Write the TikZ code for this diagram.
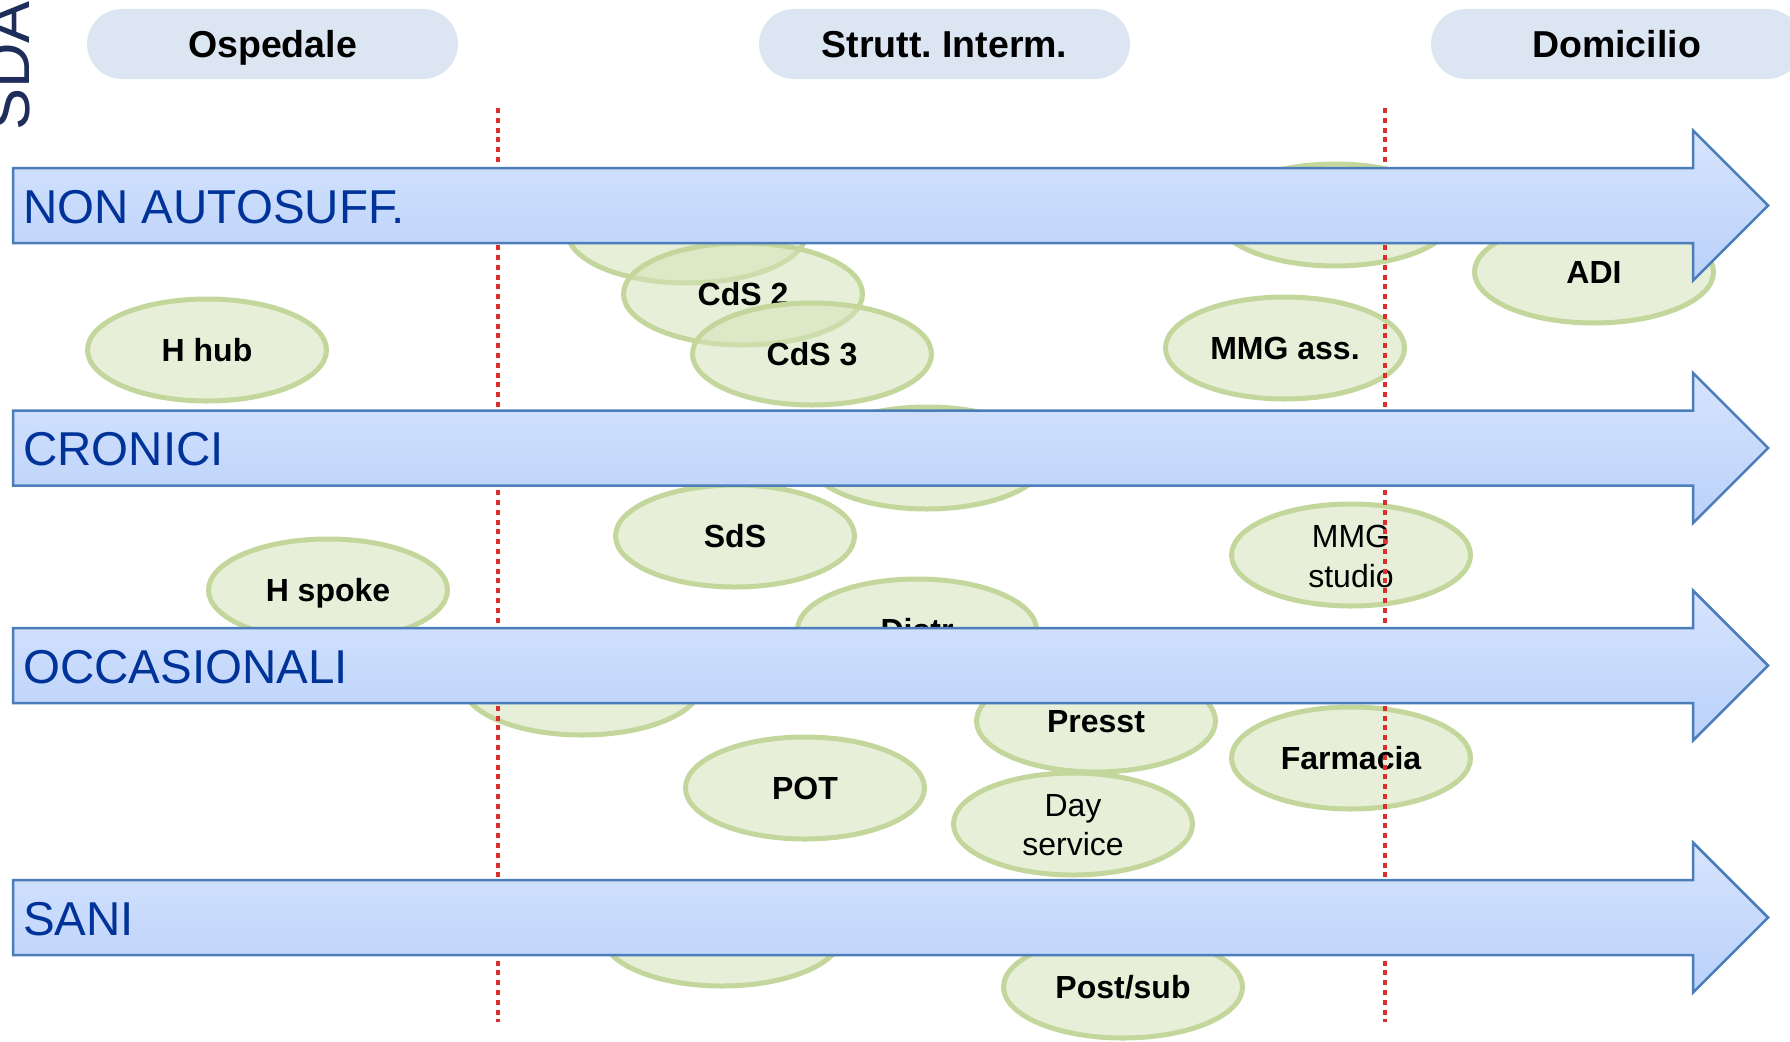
\documentclass[tikz,border=0pt]{standalone}
\usepackage{fontspec}
\setmainfont{Liberation Sans}
\usetikzlibrary{shapes.geometric}
\definecolor{pillblue}{RGB}{220,230,242}
\definecolor{ellline}{RGB}{195,214,155}
\definecolor{ellfill}{RGB}{212,226,184}
\definecolor{arrline}{RGB}{74,125,186}
\definecolor{arrtop}{RGB}{214,228,254}
\definecolor{arrbot}{RGB}{186,209,250}
\definecolor{lanetext}{RGB}{0,51,153}
\definecolor{dotred}{RGB}{222,45,45}
\definecolor{sdanavy}{RGB}{30,45,90}
\tikzset{
  pill/.style={rectangle, rounded corners=35pt, fill=pillblue, minimum width=371pt, minimum height=70pt,
    inner sep=0pt, font=\bfseries\fontsize{37.5}{42}\selectfont, text height=27pt, text depth=0pt},
  blob/.style={ellipse, minimum width=239pt, minimum height=102pt, inner sep=0pt,
    draw=ellline, line width=5pt, fill=ellfill, fill opacity=0.55, text opacity=1,
    font=\bfseries\fontsize{32}{38}\selectfont, text height=23pt, text depth=0pt},
  thinlbl/.style={anchor=base, inner sep=0pt, font=\fontsize{32}{38}\selectfont},
  lane/.style={draw=arrline, line width=2.5pt, top color=arrtop, bottom color=arrbot},
  lanelbl/.style={anchor=base west, inner sep=0pt, text=lanetext, font=\fontsize{47.5}{53}\selectfont},
  divider/.style={draw=dotred, line width=4.5pt, dash pattern=on 5pt off 4.8pt},
}
\newcommand{\lanearrow}[1]{%
  \path[lane] (13,#1-37.5) -- (1693,#1-37.5) -- (1693,#1-75) -- (1768,#1) -- (1693,#1+75)
    -- (1693,#1+37.5) -- (13,#1+37.5) -- cycle;}
\begin{document}
\begin{tikzpicture}[x=1pt,y=-1pt]
\useasboundingbox (0,0) rectangle (1790,1041);
\clip (0,0) rectangle (1790,1041);
% logo
\node[rotate=90, anchor=base, inner sep=0pt, text=sdanavy, font=\fontsize{63}{63}\selectfont] (logo) at (29,66) {SDA};
% column headers
\node[pill] (osp) at (272.5,44) {Ospedale};
\node[pill] (strutt) at (944.5,44) {Strutt.\ Interm.};
\node[pill] (domic) at (1616.5,44) {Domicilio};
% ellipses
\node[blob] (h1) at (687,232) {};
\node[blob] (cds2) at (743,294) {CdS 2};
\node[blob] (cds3) at (812,354) {CdS 3};
\node[blob] (h4) at (927,458) {};
\node[blob] (hhub) at (207,350) {H hub};
\node[blob] (mmgass) at (1285,348) {MMG ass.};
\node[blob] (h7) at (1335,215) {};
\node[blob] (adi) at (1594,272) {ADI};
\node[blob] (sds) at (735,536) {SdS};
\node[blob] (hspoke) at (328,590) {H spoke};
\node[blob] (distr) at (917,630) {Distr};
\node[blob] (h12) at (582,684) {};
\node[blob] (presst) at (1096,721) {Presst};
\node[blob] (farm) at (1351,758) {Farmacia};
\node[blob] (mmgst) at (1351,555) {};
\node[thinlbl, yshift=8pt] (mmgst1) at (mmgst) {MMG};
\node[thinlbl, yshift=-32pt] (mmgst2) at (mmgst) {studio};
\node[blob] (pot) at (805,788) {POT};
\node[blob] (day) at (1073,824) {};
\node[thinlbl, yshift=8pt] (day1) at (day) {Day};
\node[thinlbl, yshift=-31pt] (day2) at (day) {service};
\node[blob] (h18) at (722,935) {};
\node[blob] (postsub) at (1123,987) {Post/sub};
% dividers
\coordinate (d1t) at (498,108); \coordinate (d1b) at (498,1022);
\coordinate (d2t) at (1385,108); \coordinate (d2b) at (1385,1022);
\draw[divider] (d1t) -- (d1b);
\draw[divider] (d2t) -- (d2b);
% lanes
\lanearrow{205.5}
\lanearrow{448}
\lanearrow{665.5}
\lanearrow{917.5}
\node[lanelbl] (l1) at (23,223) {NON AUTOSUFF.};
\node[lanelbl] (l2) at (23,465.5) {CRONICI};
\node[lanelbl] (l3) at (23,683) {OCCASIONALI};
\node[lanelbl] (l4) at (23,935) {SANI};
\end{tikzpicture}
\end{document}
